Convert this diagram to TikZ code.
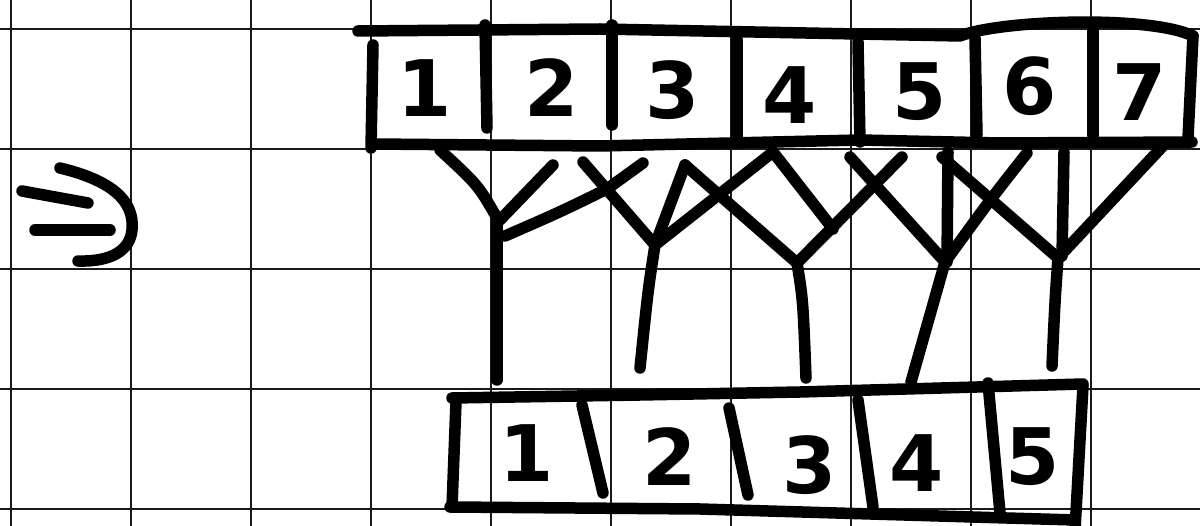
\documentclass[tikz,border=0pt]{standalone}
\usepackage{fontspec}
\newfontfamily\hand{DejaVu Sans}
\begin{document}
\begin{tikzpicture}[x=1pt,y=-1pt,
  gridline/.style={line width=1.8pt,black!90},
  ink/.style={line width=11.5pt,line cap=round,line join=round,black},
  digit/.style={inner sep=0pt,font=\hand\bfseries\fontsize{78}{78}\selectfont}]
\useasboundingbox (0,0) rectangle (1200,526);
\fill[white] (0,0) rectangle (1200,526);
% grid
\foreach \x in {11,131,...,1091} \draw[gridline] (\x,0) -- (\x,526);
\foreach \y in {29,149,...,509} \draw[gridline] (0,\y) -- (1200,\y);
% implication sign
\draw[ink] (22,191) -- (88,203);
\draw[ink] (35,230) -- (110,230);
\draw[ink] (60,168) .. controls (110,180) and (135,200) .. (132,230)
  .. controls (130,250) and (112,262) .. (78,261);
% top array
\draw[ink] (358,31) -- (600,29) -- (960,36) .. controls (1000,20) and (1150,15) .. (1193,36);
\draw[ink] (1193,36) -- (1188,138);
\draw[ink] (372,144) -- (600,146) -- (860,140) -- (1000,143) -- (1192,142);
\draw[ink] (373,45) -- (371,148);
\draw[ink] (485,25) -- (487,128);
\draw[ink] (612,25) -- (612,125);
\draw[ink] (737,40) -- (737,138);
\draw[ink] (858,42) -- (860,142);
\draw[ink] (975,38) -- (977,135);
\draw[ink] (1093,30) -- (1093,135);
\node[digit] (t1) at (425,88) {1};
\node[digit] (t2) at (552,88) {2};
\node[digit] (t3) at (673,90) {3};
\node[digit] (t4) at (790,95) {4};
\node[digit] (t5) at (920,92) {5};
\node[digit] (t6) at (1030,86) {6};
\node[digit] (t7) at (1140,92) {7};
% connection end points
\coordinate (c1) at (440,150);
\coordinate (c2a) at (553,165);
\coordinate (c2b) at (583,162);
\coordinate (c3a) at (643,163);
\coordinate (c3b) at (685,165);
\coordinate (c4a) at (773,152);
\coordinate (c5a) at (850,157);
\coordinate (c5b) at (902,157);
\coordinate (c6a) at (942,157);
\coordinate (c6b) at (948,152);
\coordinate (c6c) at (1027,153);
\coordinate (c7a) at (1064,152);
\coordinate (c7b) at (1162,147);
\coordinate (j1) at (497,218);
\coordinate (j2) at (655,245);
\coordinate (j3) at (797,263);
\coordinate (j3b) at (833,229);
\coordinate (j4) at (945,262);
\coordinate (j5) at (1058,258);
\coordinate (e1) at (497,380);
\coordinate (e2) at (640,368);
\coordinate (e3) at (806,378);
\coordinate (e4) at (911,382);
\coordinate (e5) at (1052,366);
% Y1
\draw[ink] (c1) .. controls (478,185) .. (j1);
\draw[ink] (c2a) -- (500,220);
\draw[ink] (c3a) -- (607,189) .. controls (560,212) .. (505,236);
\draw[ink] (j1) -- (497,300) -- (e1);
% Y2
\draw[ink] (c2b) -- (j2);
\draw[ink] (c3b) -- (j2);
\draw[ink] (c4a) -- (j2);
\draw[ink] (j2) .. controls (648,290) .. (e2);
% Y3
\draw[ink] (c3b) -- (j3);
\draw[ink] (c5b) -- (j3);
\draw[ink] (c4a) -- (j3b);
\draw[ink] (j3) .. controls (803,300) .. (e3);
% Y4
\draw[ink] (c5a) -- (j4);
\draw[ink] (c6b) -- (947,262);
\draw[ink] (c6c) .. controls (990,200) .. (j4);
\draw[ink] (j4) -- (e4);
% Y5
\draw[ink] (c6a) -- (j5);
\draw[ink] (c7a) -- (1062,256);
\draw[ink] (c7b) -- (j5);
\draw[ink] (j5) .. controls (1055,300) .. (e5);
% bottom array
\draw[ink] (452,398) -- (640,395) -- (800,392) -- (1083,384);
\draw[ink] (456,402) -- (452,507);
\draw[ink] (450,507) -- (700,509) -- (1075,520);
\draw[ink] (1083,386) -- (1075,530);
\draw[ink] (582,405) -- (603,493);
\draw[ink] (729,408) -- (748,495);
\draw[ink] (858,400) -- (873,507);
\draw[ink] (988,383) -- (1000,513);
\node[digit] (b1) at (527,453) {1};
\node[digit] (b2) at (670,457) {2};
\node[digit] (b3) at (810,465) {3};
\node[digit] (b4) at (917,463) {4};
\node[digit] (b5) at (1033,457) {5};
\end{tikzpicture}
\end{document}
